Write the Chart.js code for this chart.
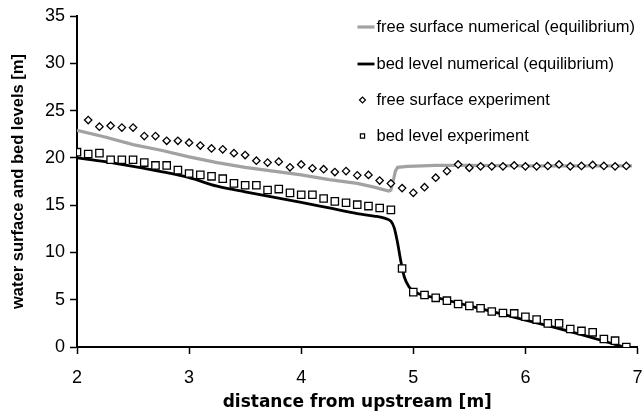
<!DOCTYPE html>
<html lang="en">
<head>
    <meta charset="UTF-8">
    <title>Water surface and bed levels</title>
    <script src="https://cdn.jsdelivr.net/npm/chart.js"></script>
    <style>
        body {
          margin: 0;
          background: #fff;
        }
        .wrap {
          width: 644px;
          height: 413px;
        }
    </style>
</head>
<body>
    <div class="wrap">
        <canvas id="myChart" width="644" height="413"></canvas>
    </div>

    <script>
        // series names (legend order)
        const seriesNames = [
            'free surface numerical (equilibrium)',
            'bed level numerical (equilibrium)',
            'free surface experiment',
            'bed level experiment'
        ];

        // free surface, numerical (equilibrium)
        const fsNumX = [2.0, 2.25, 2.5, 2.75, 3.0, 3.25, 3.5, 3.75, 4.0, 4.25, 4.5, 4.65, 4.78, 4.8, 4.82, 4.84, 4.86, 4.95, 5.2, 5.5, 6.0, 6.5, 6.95];
        const fsNumY = [22.9, 22.2, 21.4, 20.8, 20.1, 19.5, 19.0, 18.6, 18.2, 17.7, 17.3, 16.9, 16.5, 16.6, 17.5, 18.6, 19.0, 19.1, 19.2, 19.2, 19.15, 19.15, 19.15];

        // bed level, numerical (equilibrium)
        const bedNumX = [2.0, 2.25, 2.5, 2.75, 3.0, 3.25, 3.5, 3.75, 4.0, 4.25, 4.5, 4.65, 4.75, 4.8, 4.83, 4.86, 4.89, 4.92, 4.96, 5.0, 5.25, 5.5, 5.75, 6.0, 6.25, 6.5, 6.75, 6.88];
        const bedNumY = [20.0, 19.6, 19.1, 18.55, 17.9, 17.0, 16.4, 15.85, 15.3, 14.7, 14.1, 13.85, 13.6, 13.3, 12.6, 11.0, 9.0, 7.4, 6.4, 5.9, 5.1, 4.35, 3.6, 2.85, 2.1, 1.3, 0.45, 0.0];

        // free surface, experiment
        const fsExpX = [2.1, 2.2, 2.3, 2.4, 2.5, 2.6, 2.7, 2.8, 2.9, 3.0, 3.1, 3.2, 3.3, 3.4, 3.5, 3.6, 3.7, 3.8, 3.9, 4.0,
                        4.1, 4.2, 4.3, 4.4, 4.5, 4.6, 4.7, 4.8, 4.9, 5.0, 5.1, 5.2, 5.3, 5.4, 5.5, 5.6, 5.7, 5.8, 5.9, 6.0,
                        6.1, 6.2, 6.3, 6.4, 6.5, 6.6, 6.7, 6.8, 6.9];
        const fsExpY = [24.0, 23.3, 23.4, 23.2, 23.2, 22.3, 22.3, 21.8, 21.8, 21.6, 21.3, 21.0, 20.9, 20.5, 20.3, 19.7, 19.5, 19.6, 19.0, 19.3,
                        18.9, 18.8, 18.5, 18.6, 18.15, 18.2, 17.6, 17.3, 16.8, 16.3, 16.9, 17.9, 18.6, 19.3, 18.95, 19.1, 19.1, 19.1, 19.2, 19.1,
                        19.1, 19.15, 19.3, 19.1, 19.15, 19.25, 19.15, 19.1, 19.15];

        // bed level, experiment
        const bedExpX = [2.0, 2.1, 2.2, 2.3, 2.4, 2.5, 2.6, 2.7, 2.8, 2.9, 3.0, 3.1, 3.2, 3.3, 3.4, 3.5, 3.6, 3.7, 3.8, 3.9,
                         4.0, 4.1, 4.2, 4.3, 4.4, 4.5, 4.6, 4.7, 4.8, 4.9, 5.0, 5.1, 5.2, 5.3, 5.4, 5.5, 5.6, 5.7, 5.8, 5.9,
                         6.0, 6.1, 6.2, 6.3, 6.4, 6.5, 6.6, 6.7, 6.8, 6.9];
        const bedExpY = [20.6, 20.4, 20.5, 19.8, 19.8, 19.8, 19.5, 19.2, 19.2, 18.7, 18.35, 18.2, 18.05, 17.8, 17.3, 17.1, 17.1, 16.6, 16.7, 16.3,
                         16.1, 16.1, 15.7, 15.4, 15.25, 15.05, 14.9, 14.7, 14.5, 8.3, 5.8, 5.5, 5.2, 4.9, 4.55, 4.35, 4.1, 3.75, 3.6, 3.55,
                         3.2, 2.9, 2.5, 2.5, 1.9, 1.7, 1.55, 0.85, 0.67, 0.0];

        // axis ticks
        const xTicks = [2, 3, 4, 5, 6, 7];
        const yTicks = [0, 5, 10, 15, 20, 25, 30, 35];

        const toPoints = (xs, ys) => xs.map((x, i) => ({ x: x, y: ys[i] }));

        // legend drawn inside the plot, top right
        const insideLegend = {
            id: 'insideLegend',
            afterDraw(chart) {
                const ctx = chart.ctx;
                const area = chart.chartArea;
                const textX = area.right - 261;
                const rowY = [area.top + 11, area.top + 48, area.top + 84, area.top + 120];
                ctx.save();
                ctx.font = '16.5px "Liberation Sans", Arial, sans-serif';
                ctx.fillStyle = '#000';
                ctx.textBaseline = 'middle';
                ctx.textAlign = 'left';
                chart.data.datasets.forEach((ds, i) => {
                    const y = rowY[i];
                    if (ds.showLine) {
                        ctx.strokeStyle = ds.borderColor;
                        ctx.lineWidth = ds.borderWidth;
                        ctx.beginPath();
                        ctx.moveTo(textX - 19, y);
                        ctx.lineTo(textX - 2, y);
                        ctx.stroke();
                    } else {
                        ctx.strokeStyle = ds.borderColor;
                        ctx.fillStyle = '#fff';
                        ctx.lineWidth = 1.2;
                        Chart.helpers.drawPoint(ctx, {
                            pointStyle: ds.pointStyle,
                            radius: 3,
                            rotation: 0,
                            borderWidth: 1.2
                        }, textX - 14, y);
                        ctx.fillStyle = '#000';
                    }
                    ctx.fillText(ds.label, textX, y);
                });
                ctx.restore();
            }
        };

        const ctx = document.getElementById('myChart').getContext('2d');
        const myChart = new Chart(ctx, {
            type: 'scatter',
            data: {
                datasets: [{
                    label: seriesNames[0],
                    data: toPoints(fsNumX, fsNumY),
                    showLine: true,
                    borderColor: '#a2a2a2',
                    borderWidth: 3.2,
                    pointRadius: 0,
                    tension: 0,
                    order: 2
                }, {
                    label: seriesNames[1],
                    data: toPoints(bedNumX, bedNumY),
                    showLine: true,
                    borderColor: '#000',
                    borderWidth: 2.8,
                    pointRadius: 0,
                    cubicInterpolationMode: 'monotone',
                    order: 1
                }, {
                    label: seriesNames[2],
                    data: toPoints(fsExpX, fsExpY),
                    showLine: false,
                    pointStyle: 'rectRot',
                    pointRadius: 3.7,
                    pointBorderWidth: 1.3,
                    borderColor: '#000',
                    backgroundColor: '#fff',
                    order: 0
                }, {
                    label: seriesNames[3],
                    data: toPoints(bedExpX, bedExpY),
                    showLine: false,
                    pointStyle: 'rect',
                    pointRadius: 5.2,
                    pointBorderWidth: 1.3,
                    borderColor: '#000',
                    backgroundColor: '#fff',
                    order: 0
                }]
            },
            options: {
                responsive: false,
                animation: false,
                layout: {
                    padding: { top: 16, right: 4, bottom: 0, left: 0 }
                },
                plugins: {
                    legend: { display: false },
                    tooltip: { enabled: false }
                },
                scales: {
                    x: {
                        type: 'linear',
                        min: xTicks[0],
                        max: xTicks[xTicks.length - 1],
                        afterFit(scale) {
                            scale.height = 66;
                            scale.paddingLeft = 0;
                            scale.paddingRight = 0;
                        },
                        afterBuildTicks(scale) { scale.ticks = xTicks.map(v => ({ value: v })); },
                        grid: {
                            drawOnChartArea: false,
                            color: '#000',
                            tickLength: 7,
                            tickWidth: 1.5
                        },
                        border: { color: '#000', width: 2 },
                        ticks: {
                            color: '#000',
                            padding: 13,
                            font: { family: '"Liberation Sans", Arial, sans-serif', size: 18 }
                        },
                        title: {
                            display: true,
                            text: 'distance from upstream [m]',
                            color: '#000',
                            padding: { top: 0, bottom: 0 },
                            font: { family: '"DejaVu Sans", sans-serif', size: 17, weight: 'bold', lineHeight: 1.2 }
                        }
                    },
                    y: {
                        min: yTicks[0],
                        max: yTicks[yTicks.length - 1],
                        afterFit(scale) {
                            scale.width = 77;
                            scale.paddingTop = 0;
                            scale.paddingBottom = 0;
                        },
                        afterBuildTicks(scale) { scale.ticks = yTicks.map(v => ({ value: v })); },
                        grid: {
                            drawOnChartArea: false,
                            color: '#000',
                            tickLength: 7,
                            tickWidth: 1.5
                        },
                        border: { color: '#000', width: 2 },
                        ticks: {
                            color: '#000',
                            padding: 5,
                            font: { family: '"Liberation Sans", Arial, sans-serif', size: 18 }
                        },
                        title: {
                            display: true,
                            text: 'water surface and bed levels [m]',
                            color: '#000',
                            padding: { top: 9, bottom: 0 },
                            font: { family: '"Liberation Sans", Arial, sans-serif', size: 16.5, weight: 'bold', lineHeight: 1.2 }
                        }
                    }
                }
            },
            plugins: [insideLegend]
        });
    </script>
</body>
</html>
